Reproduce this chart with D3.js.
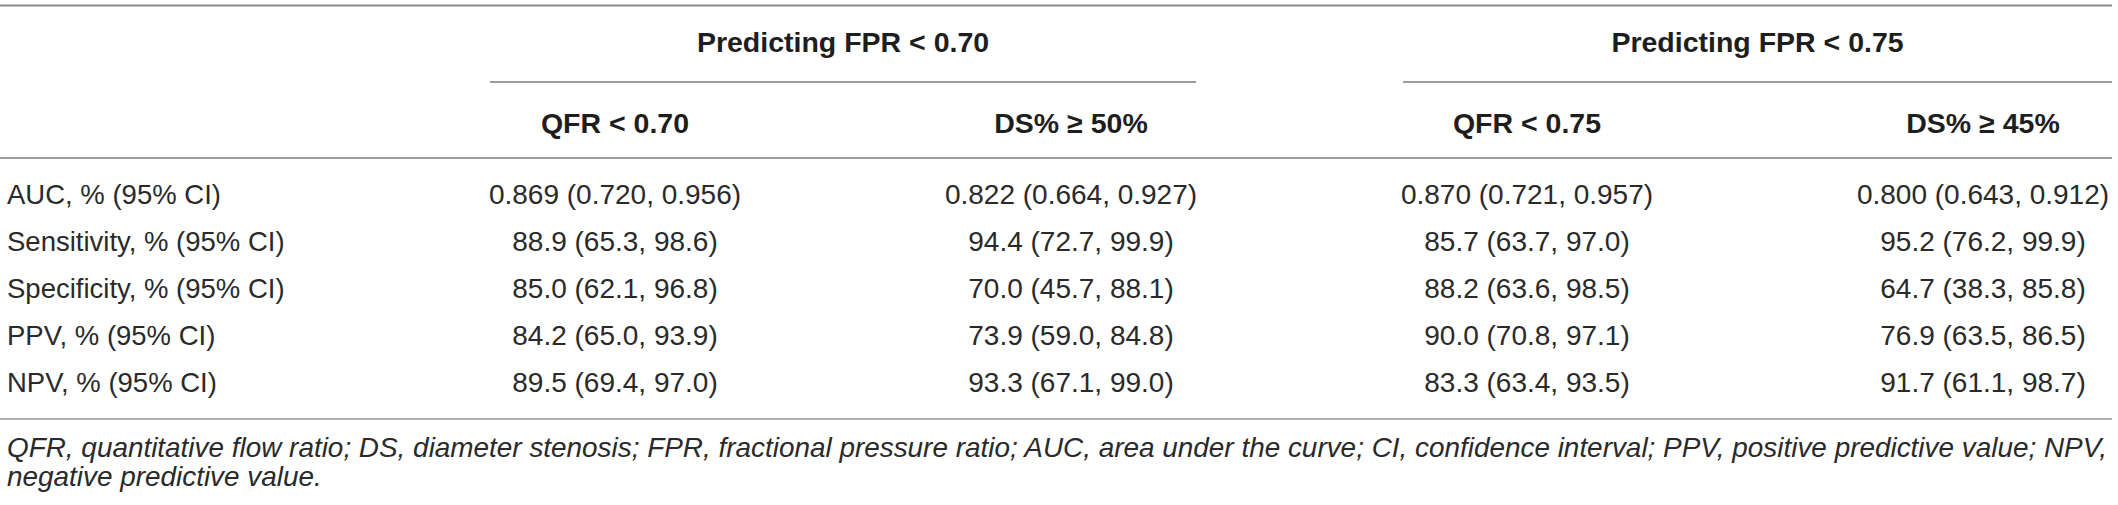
<!DOCTYPE html>
<html>
<head>
<meta charset="utf-8">
<script src="https://cdn.jsdelivr.net/npm/d3@7"></script>
<style>
  html, body { margin: 0; padding: 0; background: #fff; }
  svg { display: block; }
</style>
</head>
<body>
<svg id="chart" width="2118" height="505"></svg>
<script>
// ---- data ----
const groups = ["Predicting FPR < 0.70", "Predicting FPR < 0.75"];
const columns = ["QFR < 0.70", "DS% ≥ 50%", "QFR < 0.75", "DS% ≥ 45%"];
const columnGroup = [0, 0, 1, 1];
const rowLabels = [
  "AUC, % (95% CI)",
  "Sensitivity, % (95% CI)",
  "Specificity, % (95% CI)",
  "PPV, % (95% CI)",
  "NPV, % (95% CI)"
];
const qfr070 = ["0.869 (0.720, 0.956)", "88.9 (65.3, 98.6)", "85.0 (62.1, 96.8)", "84.2 (65.0, 93.9)", "89.5 (69.4, 97.0)"];
const ds50   = ["0.822 (0.664, 0.927)", "94.4 (72.7, 99.9)", "70.0 (45.7, 88.1)", "73.9 (59.0, 84.8)", "93.3 (67.1, 99.0)"];
const qfr075 = ["0.870 (0.721, 0.957)", "85.7 (63.7, 97.0)", "88.2 (63.6, 98.5)", "90.0 (70.8, 97.1)", "83.3 (63.4, 93.5)"];
const ds45   = ["0.800 (0.643, 0.912)", "95.2 (76.2, 99.9)", "64.7 (38.3, 85.8)", "76.9 (63.5, 86.5)", "91.7 (61.1, 98.7)"];
const footnote = [
  "QFR, quantitative flow ratio; DS, diameter stenosis; FPR, fractional pressure ratio; AUC, area under the curve; CI, confidence interval; PPV, positive predictive value; NPV,",
  "negative predictive value."
];

const seriesByColumn = [qfr070, ds50, qfr075, ds45];

// ---- layout ----
const svg = d3.select("#chart");
const font = "'Liberation Sans', Arial, Helvetica, sans-serif";
const textColor = "#2a2a2a";

const x = d3.scalePoint().domain(columns).range([615, 1983]);
const y = d3.scalePoint().domain(rowLabels).range([204, 392]);
const groupSpan = [[490, 1196], [1403, 2112]];

// rules
function rule(x1, x2, yy, color, w) {
  svg.append("line")
    .attr("x1", x1).attr("x2", x2).attr("y1", yy).attr("y2", yy)
    .attr("stroke", color).attr("stroke-width", w);
}
rule(0, 2112, 5.5, "#8a8a8a", 2);
groupSpan.forEach(s => rule(s[0], s[1], 82, "#7a7a7a", 1.5));
rule(0, 2112, 158, "#7a7a7a", 1.5);
rule(0, 2112, 419, "#b0b0b0", 2.2);

// group headers
svg.selectAll("text.group").data(groups).join("text")
  .attr("class", "group")
  .attr("x", (d, i) => (groupSpan[i][0] + groupSpan[i][1]) / 2)
  .attr("y", 52)
  .attr("text-anchor", "middle")
  .attr("font-family", font).attr("font-weight", "bold").attr("font-size", 28.5)
  .attr("fill", "#1e1e1e")
  .text(d => d);

// column headers
svg.selectAll("text.col").data(columns).join("text")
  .attr("class", "col")
  .attr("x", d => x(d))
  .attr("y", 133)
  .attr("text-anchor", "middle")
  .attr("font-family", font).attr("font-weight", "bold").attr("font-size", 28.5)
  .attr("fill", "#1e1e1e")
  .text(d => d);

// row labels
svg.selectAll("text.row").data(rowLabels).join("text")
  .attr("class", "row")
  .attr("x", 7)
  .attr("y", d => y(d))
  .attr("font-family", font).attr("font-size", 27.5)
  .attr("fill", textColor)
  .text(d => d);

// cells
const cells = [];
columns.forEach((c, ci) => {
  rowLabels.forEach((r, ri) => cells.push({ col: c, row: r, v: seriesByColumn[ci][ri] }));
});
svg.selectAll("text.cell").data(cells).join("text")
  .attr("class", "cell")
  .attr("x", d => x(d.col))
  .attr("y", d => y(d.row))
  .attr("text-anchor", "middle")
  .attr("font-family", font).attr("font-size", 28)
  .attr("fill", textColor)
  .text(d => d.v);

// footnote
const foot = svg.selectAll("text.foot").data(footnote).join("text")
  .attr("class", "foot")
  .attr("x", 7)
  .attr("y", (d, i) => 457 + i * 29)
  .attr("font-family", font).attr("font-style", "italic").attr("font-size", 27)
  .attr("fill", textColor)
  .text(d => d);
// fit first footnote line to the table width
const first = foot.filter((d, i) => i === 0).node();
const w = first.getComputedTextLength();
const fs = 27 * 2101 / w;
foot.attr("font-size", fs);
</script>
</body>
</html>
